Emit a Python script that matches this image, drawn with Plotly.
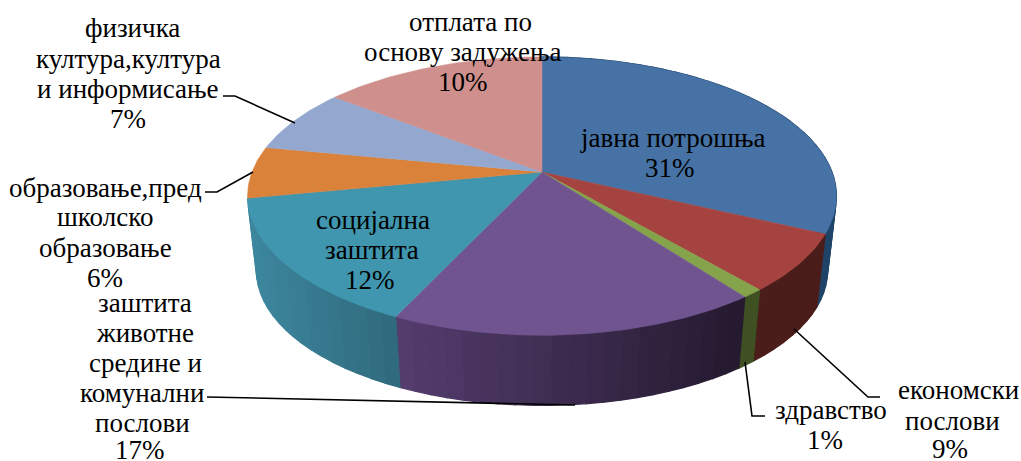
import math
import plotly.graph_objects as go

# Displayed labels and percentages
label_lines = [
    ["јавна потрошња"],
    ["економски", "послови"],
    ["здравство"],
    ["заштита", "животне", "средине и", "комунални", "послови"],
    ["социјална", "заштита"],
    ["образовање,пред", "школско", "образовање"],
    ["физичка", "култура,култура", "и информисање"],
    ["отплата по", "основу задужења"],
]
label_pct = [31, 9, 1, 17, 12, 6, 7, 10]
# Slice sizes as actually drawn in the picture (the picture's wedges do not follow the labels)
drawn_share = [32.0, 6.7, 1.0, 17.3, 15.0, 6.0, 7.5, 14.5]
top_colors = ["#4672A5", "#A44340", "#85A34A", "#705490", "#3F96AE", "#DA813A", "#94A8CF", "#CF8F8C"]
side_colors = ["#1F4468", "#4A1D1A", "#3F5022", "#4A3560", "#3A8096", "#8A5020", "#5A6A88", "#805050"]
label_line_x = [
    [672, 670],
    [958, 952, 950],
    [831, 825],
    [145, 145, 145, 142, 142, 140],
    [373, 372, 370],
    [105, 105, 105, 105],
    [132, 128, 128, 128],
    [470, 463, 463],
]
label_line_y = [
    [138, 168],
    [390, 421, 449],
    [410, 440],
    [303, 333, 363, 393, 423, 450],
    [220, 250, 280],
    [188, 217, 248, 278],
    [28, 59, 89, 119],
    [22, 52, 82],
]
leaders = [
    ([794, 868, 880], [329, 397, 397]),
    ([745, 752, 765], [362, 416, 416]),
    ([207, 575], [397, 405]),
    ([205, 217, 253], [192, 192, 172]),
    ([223, 235, 295], [96, 96, 123]),
]

CX, CY, A, B, K = 542, 172, 290, 135, 0.173
SHRINK, DEPTH = 0.97, 75
VISIBLE_SIDES = 5  # the slices behind the teal one show no side


def top_pt(t):
    sx, cy = math.sin(t), math.cos(t)
    d = 1 + K * cy
    return CX + A * sx / d, CY - B * cy / d


def bot_pt(t):
    x, y = top_pt(t)
    return CX + (x - CX) * SHRINK, CY + (y - CY) * SHRINK + DEPTH


def shade(hex_color, f):
    r, g, b = (int(hex_color[i:i + 2], 16) for i in (1, 3, 5))
    return f"rgb({min(255, int(r * f))},{min(255, int(g * f))},{min(255, int(b * f))})"


fig = go.Figure()
total = sum(drawn_share)
edges = [0.0]
for v in drawn_share:
    edges.append(edges[-1] + v / total * 2 * math.pi)

# Sides, shaded by position
for i in range(VISIBLE_SIDES):
    t0, t1 = edges[i], edges[i + 1]
    n = max(2, int((t1 - t0) / 0.05))
    for j in range(n):
        a0 = t0 + (t1 - t0) * j / n
        a1 = t0 + (t1 - t0) * (j + 1) / n
        p = [top_pt(a0), top_pt(a1), bot_pt(a1), bot_pt(a0), top_pt(a0)]
        xpos = (top_pt((a0 + a1) / 2)[0] - CX) / A
        factor = 1.0
        if i == 3:
            factor = 1.15 - 0.55 * (xpos + 0.5)
        if i == 4:
            factor = 1.05 - 0.45 * (xpos + 1)
        col = shade(side_colors[i], factor)
        fig.add_trace(go.Scatter(x=[q[0] for q in p], y=[q[1] for q in p], mode="lines",
                                 fill="toself", fillcolor=col, line=dict(color=col, width=1.2),
                                 hoverinfo="skip", showlegend=False))

# Top faces
for i in range(len(drawn_share)):
    t0, t1 = edges[i], edges[i + 1]
    n = max(2, int((t1 - t0) / 0.02))
    pts = [(CX, CY)] + [top_pt(t0 + (t1 - t0) * j / n) for j in range(n + 1)] + [(CX, CY)]
    fig.add_trace(go.Scatter(x=[q[0] for q in pts], y=[q[1] for q in pts], mode="lines",
                             fill="toself", fillcolor=top_colors[i],
                             line=dict(color=top_colors[i], width=0.5),
                             hoverinfo="skip", showlegend=False))

# Leader lines
for lx, ly in leaders:
    fig.add_trace(go.Scatter(x=lx, y=ly, mode="lines", line=dict(color="black", width=1.6),
                             hoverinfo="skip", showlegend=False))

for lines, pct, xs, ys in zip(label_lines, label_pct, label_line_x, label_line_y):
    for line, x, y in zip(lines + [f"{pct}%"], xs, ys):
        fig.add_annotation(x=x, y=y, text=line, showarrow=False,
                           xanchor="center", yanchor="middle", align="center",
                           font=dict(family="Liberation Serif", size=27, color="black"))

fig.update_layout(
    width=1021, height=461, margin=dict(l=0, r=0, t=0, b=0),
    paper_bgcolor="white", plot_bgcolor="white", showlegend=False,
    xaxis=dict(range=[0, 1021], visible=False, fixedrange=True),
    yaxis=dict(range=[461, 0], visible=False, fixedrange=True),
)
fig.write_html("out.html", config={"displayModeBar": False},
               post_script="document.body.style.margin='0';document.body.style.overflow='hidden';")
